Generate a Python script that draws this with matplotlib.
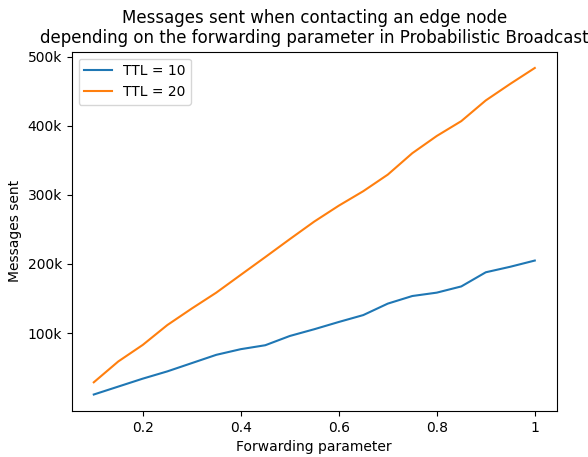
import matplotlib
matplotlib.use("Agg")
import matplotlib.pyplot as plt

forwarding = [0.1, 0.15, 0.2, 0.25, 0.3, 0.35, 0.4, 0.45, 0.5, 0.55,
              0.6, 0.65, 0.7, 0.75, 0.8, 0.85, 0.9, 0.95, 1.0]

ttl10 = [10900, 22400, 33900, 44400, 56400, 68400, 76600, 82300, 95700, 105500,
         116000, 126000, 142600, 153600, 158500, 167500, 188000, 196000, 205000]

ttl20 = [28600, 58800, 82800, 111500, 135500, 158500, 184300, 210000, 236000, 261500,
         284500, 305500, 329500, 360500, 385500, 407000, 437000, 461000, 484000]

ytick_vals = [100000, 200000, 300000, 400000, 500000]
ytick_labels = ["100k", "200k", "300k", "400k", "500k"]
xtick_vals = [0.2, 0.4, 0.6, 0.8, 1.0]
xtick_labels = ["0.2", "0.4", "0.6", "0.8", "1"]

fig = plt.figure(figsize=(5.88, 4.57), dpi=100)
ax = fig.add_axes([0.122, 0.101, 0.825, 0.786])

ax.plot(forwarding, ttl10, label="TTL = 10")
ax.plot(forwarding, ttl20, label="TTL = 20")

ax.set_yticks(ytick_vals)
ax.set_yticklabels(ytick_labels)
ax.set_xticks(xtick_vals)
ax.set_xticklabels(xtick_labels)

ax.set_xlabel("Forwarding parameter")
ax.set_ylabel("Messages sent")
ax.set_title("Messages sent when contacting an edge node\n"
             "depending on the forwarding parameter in Probabilistic Broadcast")
ax.legend(loc="upper left")

fig.savefig("out.png", dpi=100)
